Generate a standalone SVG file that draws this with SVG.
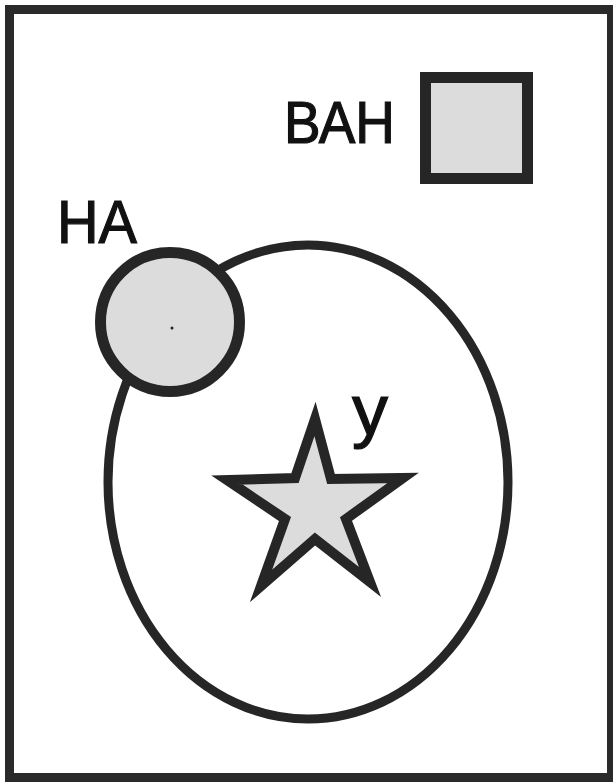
<svg xmlns="http://www.w3.org/2000/svg" width="613" height="782" viewBox="0 0 613 782">
<style>
.shape{fill:#dcdcdc;stroke:#262626;stroke-linejoin:miter;stroke-miterlimit:12}
.lbl{font-family:"Liberation Sans","Arial",sans-serif;fill:#111;stroke:#111;stroke-width:1.2}
</style>
<rect x="0" y="0" width="613" height="782" fill="#ffffff"/>
<g id="frame"><rect x="9.5" y="9.5" width="602" height="768" fill="#ffffff" stroke="#2a2a2a" stroke-width="9"/></g>
<g id="van">
<text class="lbl" x="284" y="143" font-size="60" textLength="111" lengthAdjust="spacingAndGlyphs">ВАН</text>
<rect class="shape" x="425.5" y="77.5" width="102" height="101" stroke-width="11"/>
</g>
<g id="ellipse"><ellipse cx="308" cy="482" rx="200" ry="237" fill="none" stroke="#262626" stroke-width="9"/></g>
<g id="na">
<text class="lbl" x="57" y="243" font-size="61" textLength="80" lengthAdjust="spacingAndGlyphs">НА</text>
<circle class="shape" cx="170" cy="322" r="69.5" stroke-width="11"/>
<circle cx="172" cy="328" r="1.5" fill="#222"/>
</g>
<g id="u">
<text class="lbl" x="352" y="434" font-size="70" textLength="36" lengthAdjust="spacingAndGlyphs">у</text>
<polygon class="shape" stroke-width="10" points="315,419 331,479 403,478 346,519 370,582 315,539 261,586 285,519 227,480 295,478"/>
</g>
</svg>
